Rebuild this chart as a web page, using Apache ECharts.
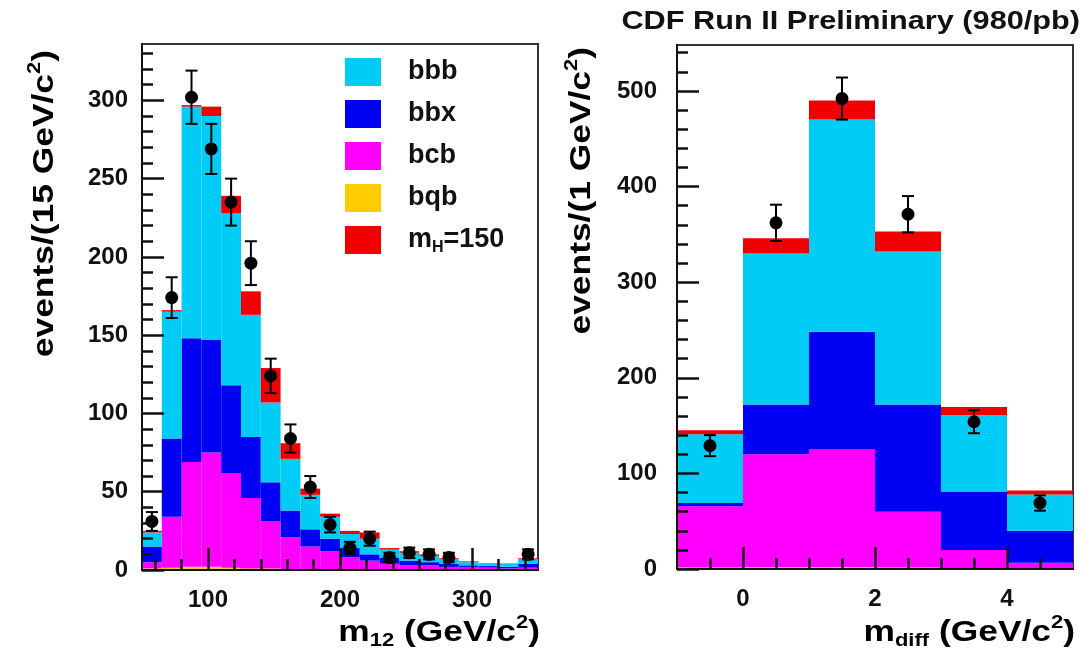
<!DOCTYPE html>
<html>
<head>
<meta charset="utf-8">
<script src="https://cdn.jsdelivr.net/npm/echarts@6/dist/echarts.min.js"></script>
<style>
  html, body { margin: 0; padding: 0; background: #fff; }
  #main { width: 1090px; height: 667px; }
</style>
</head>
<body>
<div id="main"></div>
<script>
// ---- left panel: m12, 15 GeV bins ----
var leftEdges = [50, 65, 80, 95, 110, 125, 140, 155, 170, 185, 200, 215, 230, 245, 260, 275, 290, 305, 320, 335, 350];
var leftBqb = [1, 1.5, 2, 2, 1.5, 1, 1, 0.5, 0.5, 0.5, 0.5, 0.5, 0.3, 0.3, 0.3, 0.2, 0.2, 0.2, 0.2, 0.2];
var leftBcb = [4, 32.5, 67, 73, 60.5, 45, 30, 20.5, 14.5, 11.5, 7.5, 5.5, 3.7, 2.7, 2.7, 1.8, 1.8, 1.3, 0.8, 1.3];
var leftBbx = [10, 50, 79, 72, 56, 39, 25, 17, 11, 8, 6, 4, 4, 3, 2, 2, 1, 1, 1, 2.5];
var leftBbb = [9, 81, 148, 143, 110, 78, 51, 33, 22, 14, 9, 10, 5, 5, 4, 3, 2, 1.5, 2, 3];
var leftSig = [1, 1, 1, 6, 11, 15, 22, 10, 4, 2, 2, 4, 1, 1, 1, 0.5, 0.5, 0.3, 0.2, 0.5];
var leftData = [31, 174, 302, 269, 235, 196, 124, 84, 53, 29, 14, 20, 8, 11, 10, 8, 0, 0, 0, 10];
var leftErr = [6, 13, 17, 16, 15, 14, 11, 9, 7, 5, 4, 4.5, 3, 3.3, 3.2, 3, 0, 0, 0, 3.2];
var leftXLabels = [100, 200, 300];
var leftXMinor = [60, 80, 120, 140, 160, 180, 220, 240, 260, 280, 320, 340];
var leftYLabels = [0, 50, 100, 150, 200, 250, 300];
var leftYMinor = [10, 20, 30, 40, 60, 70, 80, 90, 110, 120, 130, 140, 160, 170, 180, 190,
                  210, 220, 230, 240, 260, 270, 280, 290, 310, 320, 330];

// ---- right panel: mdiff, 1 GeV bins ----
var rightEdges = [-1, 0, 1, 2, 3, 4, 5];
var rightBqb = [1.5, 2, 2, 1.5, 1, 0.5];
var rightBcb = [64, 118, 123, 58.5, 19, 6];
var rightBbx = [3.5, 52, 123, 112, 61, 33.5];
var rightBbb = [72, 158, 222, 160, 80, 38];
var rightSig = [4, 16, 20, 21, 8.5, 4];
var rightData = [129, 362, 492, 371, 154, 69];
var rightErr = [11, 19, 22, 19, 12, 8];
var rightXLabels = [0, 2, 4];
var rightXMinor = [-0.5, 0.5, 1, 1.5, 2.5, 3, 3.5, 4.5];
var rightYLabels = [0, 100, 200, 300, 400, 500];
var rightYMinor = [20, 40, 60, 80, 120, 140, 160, 180, 220, 240, 260, 280,
                   320, 340, 360, 380, 420, 440, 460, 480, 520, 540];

var names = ['bqb', 'bcb', 'bbx', 'bbb', 'sig'];
var colors = { bqb: '#ffcc00', bcb: '#ff00ff', bbx: '#0000f2', bbb: '#00ccf5', sig: '#f20000' };
var FONT = 'Liberation Sans';

function histItem(params, api) {
    var p0 = api.coord([api.value(0), api.value(2)]);
    var p1 = api.coord([api.value(1), api.value(3)]);
    return {
        type: 'rect',
        shape: { x: p0[0], y: p1[1], width: p1[0] - p0[0], height: p0[1] - p1[1] },
        style: { fill: api.visual('color') }
    };
}

function errItem(params, api) {
    var x = api.value(0), y = api.value(1), e = api.value(2);
    if (!(e > 0)) return;
    var lo = api.coord([x, y - e]), hi = api.coord([x, y + e]);
    var c = 6, st = { stroke: '#000', lineWidth: 2 };
    return {
        type: 'group',
        children: [
            { type: 'line', shape: { x1: lo[0], y1: lo[1], x2: hi[0], y2: hi[1] }, style: st },
            { type: 'line', shape: { x1: lo[0] - c, y1: lo[1], x2: lo[0] + c, y2: lo[1] }, style: st },
            { type: 'line', shape: { x1: hi[0] - c, y1: hi[1], x2: hi[0] + c, y2: hi[1] }, style: st }
        ]
    };
}

function panelSeries(edges, comps, data, err, xi, yi) {
    var out = [];
    var base = edges.slice(1).map(function () { return 0; });
    comps.forEach(function (vals, k) {
        var rows = vals.map(function (v, i) {
            var r = [edges[i], edges[i + 1], base[i], base[i] + v];
            base[i] += v;
            return r;
        });
        out.push({
            name: names[k], type: 'custom', renderItem: histItem,
            xAxisIndex: xi, yAxisIndex: yi, z: 2 + k * 0.01,
            itemStyle: { color: colors[names[k]] },
            encode: { x: [0, 1], y: [2, 3] }, data: rows
        });
    });
    var pts = data.map(function (v, i) {
        return [(edges[i] + edges[i + 1]) / 2, v, err[i]];
    }).filter(function (p) { return p[1] > 0; });
    out.push({
        type: 'custom', renderItem: errItem, xAxisIndex: xi, yAxisIndex: yi, z: 5,
        encode: { x: 0, y: 1 }, data: pts
    });
    out.push({
        type: 'scatter', xAxisIndex: xi, yAxisIndex: yi, z: 6,
        symbol: 'circle', symbolSize: 13, itemStyle: { color: '#000', opacity: 1 },
        data: pts.map(function (p) { return [p[0], p[1]]; })
    });
    return out;
}

var labelStyle = { fontFamily: FONT, fontWeight: 'bold', fontSize: 24, color: '#111' };

function mainAxis(grid, min, max, labels, pos, margin) {
    return {
        type: 'value', gridIndex: grid, min: min, max: max, position: pos, z: 10,
        axisLine: { show: true, onZero: false, lineStyle: { color: '#111', width: 2 } },
        axisTick: { show: true, inside: true, length: 22, customValues: labels,
                    lineStyle: { color: '#111', width: 2.5 } },
        axisLabel: Object.assign({ customValues: labels, margin: margin }, labelStyle),
        splitLine: { show: false }
    };
}
function minorAxis(grid, min, max, ticks, pos) {
    return {
        type: 'value', gridIndex: grid, min: min, max: max, position: pos, z: 10,
        axisLine: { show: false, onZero: false },
        axisTick: { show: true, inside: true, length: 11, customValues: ticks,
                    lineStyle: { color: '#111', width: 2.5 } },
        axisLabel: { show: false },
        splitLine: { show: false }
    };
}

var rich = {
    t: { fontFamily: FONT, fontWeight: 'bold', fontSize: 29, color: '#111', verticalAlign: 'middle' },
    sub: { fontFamily: FONT, fontWeight: 'bold', fontSize: 18, color: '#111', verticalAlign: 'middle', padding: [17, 0, 0, 0] },
    sup: { fontFamily: FONT, fontWeight: 'bold', fontSize: 18, color: '#111', verticalAlign: 'middle', padding: [0, 0, 20, 0] }
};

function title(text, x, y, rot) {
    return {
        type: 'text', x: x, y: y, rotation: rot || 0, scaleX: 1.22, z: 20,
        style: { text: text, rich: rich, align: 'right', verticalAlign: 'middle' }
    };
}

var myChart = echarts.init(document.getElementById('main'));
var option = {
    animation: false,
    backgroundColor: '#fff',
    grid: [
        { left: 142, top: 44, width: 396, height: 526, show: true, borderColor: '#333', borderWidth: 2 },
        { left: 677, top: 45, width: 396, height: 524, show: true, borderColor: '#333', borderWidth: 2 }
    ],
    xAxis: [
        mainAxis(0, 50, 350, leftXLabels, 'bottom', 18),
        minorAxis(0, 50, 350, leftXMinor, 'bottom'),
        mainAxis(1, -1, 5, rightXLabels, 'bottom', 18),
        minorAxis(1, -1, 5, rightXMinor, 'bottom')
    ],
    yAxis: [
        mainAxis(0, 0, 336, leftYLabels, 'left', 14),
        minorAxis(0, 0, 336, leftYMinor, 'left'),
        mainAxis(1, 0, 548, rightYLabels, 'left', 20),
        minorAxis(1, 0, 548, rightYMinor, 'left')
    ],
    legend: {
        data: ['bbb', 'bbx', 'bcb', 'bqb', 'sig'],
        orient: 'vertical', left: 345, top: 58, padding: 0,
        icon: 'rect', itemWidth: 36, itemHeight: 28, itemGap: 14,
        selectedMode: false,
        formatter: function (n) {
            return n === 'sig' ? '{m|m}{s|H}{m|=150}' : '{m|' + n + '}';
        },
        textStyle: {
            padding: [0, 0, 0, 22],
            rich: {
                m: { fontFamily: FONT, fontWeight: 'bold', fontSize: 27, color: '#111', verticalAlign: 'middle' },
                s: { fontFamily: FONT, fontWeight: 'bold', fontSize: 16, color: '#111', verticalAlign: 'middle', padding: [15, 0, 0, 0] }
            }
        }
    },
    graphic: [
        {
            type: 'text', x: 1080, y: 22, scaleX: 1.18, z: 20,
            style: { text: 'CDF Run II Preliminary (980/pb)', align: 'right', verticalAlign: 'middle',
                     font: 'bold 26px "Liberation Sans"', fill: '#111' }
        },
        title('{t|events/(15 GeV/c}{sup|2}{t|)}', 45, 50, Math.PI / 2),
        title('{t|events/(1 GeV/c}{sup|2}{t|)}', 582, 47, Math.PI / 2),
        title('{t|m}{sub|12}{t| (GeV/c}{sup|2}{t|)}', 540, 633, 0),
        title('{t|m}{sub|diff}{t| (GeV/c}{sup|2}{t|)}', 1075, 633, 0)
    ],
    series: []
        .concat(panelSeries(leftEdges, [leftBqb, leftBcb, leftBbx, leftBbb, leftSig], leftData, leftErr, 0, 0))
        .concat(panelSeries(rightEdges, [rightBqb, rightBcb, rightBbx, rightBbb, rightSig], rightData, rightErr, 2, 2))
};
myChart.setOption(option);
</script>
</body>
</html>
